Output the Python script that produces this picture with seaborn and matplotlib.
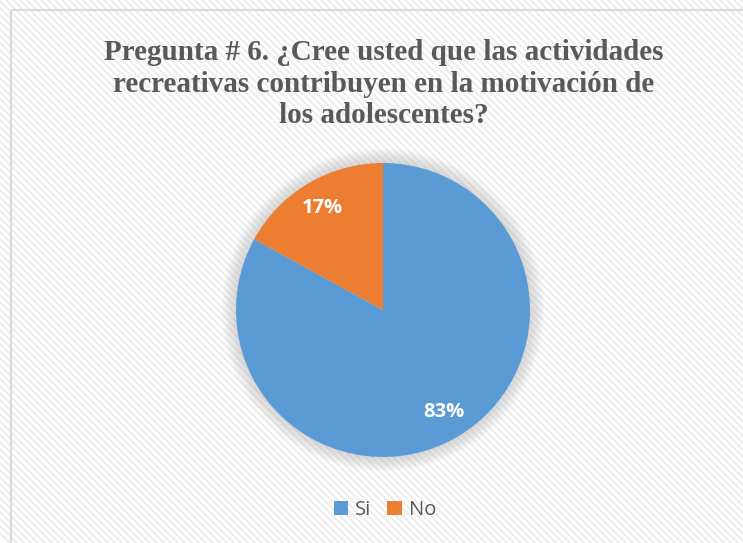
import numpy as np
import matplotlib
matplotlib.use("Agg")
import matplotlib.pyplot as plt
from matplotlib.patches import Circle, Rectangle, Patch
import seaborn as sns

# Survey answers
categories = ["Si", "No"]
percentages = [83, 17]
colors = ["#5B9BD5", "#ED7D31"]
title_text = ("Pregunta # 6. ¿Cree usted que las actividades\n"
              "recreativas contribuyen en la motivación de\n"
              "los adolescentes?")

sns.set_theme(style="white")
plt.rcParams["font.family"] = ["DejaVu Sans"]

W, H = 743, 543
fig = plt.figure(figsize=(W / 100, H / 100), dpi=100)
fig.patch.set_facecolor("white")

# Background with diagonal light stripes and a thin frame
bg = fig.add_axes([0, 0, 1, 1])
bg.set_xlim(0, W)
bg.set_ylim(H, 0)
bg.axis("off")
step = 7
for c in range(-H, W + H, step):
    bg.plot([c, c + H + 20], [-10, H + 10], color="#eeeeee", lw=1.6,
            solid_capstyle="butt", zorder=0)
bg.add_patch(Rectangle((11, 10), W, H, fill=False, edgecolor="#d9d9d9",
                       lw=1.5, zorder=1))

# Title
fig.text(384 / W, 1 - 84 / H, title_text, ha="center", va="center",
         fontsize=21, fontweight="bold", color="#595959",
         family="Liberation Serif", linespacing=1.2)

# Pie
cx, cy, r = 383, 310, 147
ax = fig.add_axes([(cx - r) / W, (H - cy - r) / H, 2 * r / W, 2 * r / H])

# soft shadow around the pie
for i in range(14):
    rad = 1.0 + 0.007 * (i + 1)
    ax.add_patch(Circle((0, 0.0), rad, color="#808080", alpha=0.018,
                        lw=0, clip_on=False, zorder=0))

wedges, texts, autotexts = ax.pie(
    percentages, colors=colors, startangle=90, counterclock=False,
    radius=1, autopct=lambda p: f"{p:.0f}%", pctdistance=0.81,
    wedgeprops=dict(linewidth=0), textprops=dict(color="white"))
for t in autotexts:
    t.set_fontsize(14.5)
    t.set_fontweight("bold")
    t.set_family("Open Sans")
for w in wedges:
    w.set_zorder(2)
ax.set_xlim(-1, 1)
ax.set_ylim(-1, 1)
ax.set_aspect("equal")
ax.axis("off")

# Legend
handles = [Patch(facecolor=c, edgecolor="none", label=l)
           for c, l in zip(colors, categories)]
leg = fig.legend(handles=handles, loc="center", ncol=2,
                 bbox_to_anchor=(385 / W, 1 - 510 / H), frameon=False,
                 prop=dict(family="Open Sans", size=14.5),
                 handlelength=0.7, handleheight=0.7, handletextpad=0.35,
                 columnspacing=0.8)
for t in leg.get_texts():
    t.set_color("#595959")

fig.savefig("out.png", dpi=100, facecolor="white")
